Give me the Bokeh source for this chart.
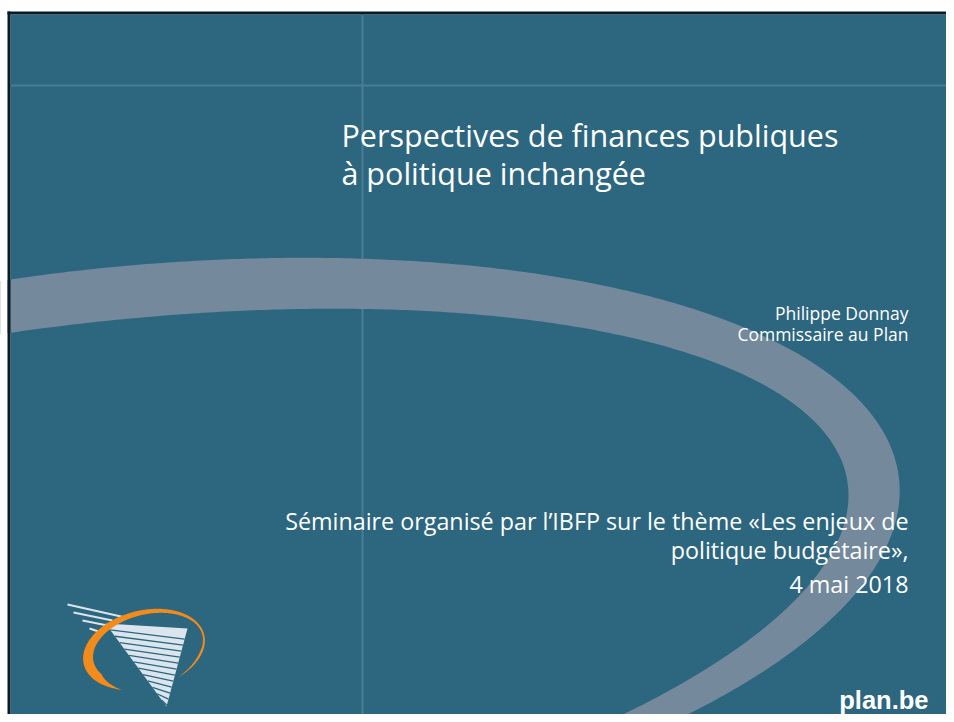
import numpy as np
from bokeh.plotting import figure
from bokeh.models import Range1d
from bokeh.core.properties import value
from bokeh.embed import file_html
from bokeh.resources import INLINE

# ---------------- content ----------------
title_lines = ["Perspectives de finances publiques", "à politique inchangée"]
author_lines = ["Philippe Donnay", "Commissaire au Plan"]
event_lines = ["Séminaire organisé par l’IBFP sur le thème «Les enjeux de",
               "politique budgétaire»,", "4 mai 2018"]
site_label = "plan.be"

# ---------------- colours ----------------
BG = "#2d667f"
BAND = "#74899b"
GUIDE = "#4a7c93"
ORANGE = "#f28a1c"
STRIPE = "#dbe5ed"
FRAME = "#0a1c26"

# ---------------- swoosh edge tracing (picture pixels) ----------------
outer_x = [10, 150, 273, 362, 600, 760, 850, 880, 892, 872, 812, 742, 672]
outer_y = [279, 264, 255, 258, 292, 327, 390, 420, 490, 570, 637, 683, 722]
inner_x = [10, 200, 362, 600, 733, 800, 838, 845, 836, 794, 714, 604]
inner_y = [332, 313, 308, 332, 367, 410, 450, 480, 540, 600, 665, 722]


def fit_ellipse(xs, ys, n=900):
    x = np.asarray(xs, float)
    y = np.asarray(ys, float)
    mx, my, s = x.mean(), y.mean(), 100.0
    u, v = (x - mx) / s, (y - my) / s
    D1 = np.column_stack([u * u, u * v, v * v])
    D2 = np.column_stack([u, v, np.ones_like(u)])
    S1, S2, S3 = D1.T @ D1, D1.T @ D2, D2.T @ D2
    T = -np.linalg.solve(S3, S2.T)
    M = S1 + S2 @ T
    C = np.array([[0, 0, 2], [0, -1, 0], [2, 0, 0]], float)
    M = np.linalg.solve(C, M)
    w, V = np.linalg.eig(M)
    V = np.real(V)
    cond = 4 * V[0] * V[2] - V[1] ** 2
    a1 = V[:, np.argmax(cond)]
    a, b, c = a1
    d, e, f = T @ a1
    uc, vc = np.linalg.solve(np.array([[2 * a, b], [b, 2 * c]]), [-d, -e])
    fc = a * uc * uc + b * uc * vc + c * vc * vc + d * uc + e * vc + f
    Q = np.array([[a, b / 2], [b / 2, c]])
    ev, EV = np.linalg.eigh(Q)
    r = np.sqrt(-fc / ev)
    t = np.linspace(0, 2 * np.pi, n)
    pts = EV @ np.vstack([r[0] * np.cos(t), r[1] * np.sin(t)])
    return list(mx + s * (uc + pts[0])), list(my + s * (vc + pts[1]))


ox, oy = fit_ellipse(outer_x, outer_y)
ix, iy = fit_ellipse(inner_x, inner_y)

# ---------------- figure (data units = picture pixels) ----------------
W, H = 946, 714
p = figure(width=W, height=H, x_range=Range1d(0, W), y_range=Range1d(H, 0),
           x_axis_type=None, y_axis_type=None, toolbar_location=None,
           output_backend="svg", min_border=0, outline_line_color=None,
           background_fill_color="white", border_fill_color="white")
p.grid.visible = False

# slide background
p.quad(left=[10], right=[960], top=[14], bottom=[730], fill_color=BG, line_color=None)

# guide lines
p.segment(x0=[362, 10], y0=[14, 85], x1=[362, 960], y1=[730, 85],
          line_color=GUIDE, line_width=2)

# swoosh band
p.multi_polygons(xs=[[[ox, ix]]], ys=[[[oy, iy]]], fill_color=BAND, line_color=None)

# white page margin and dark slide frame (left and top)
p.quad(left=[-10], right=[7], top=[-10], bottom=[730], fill_color="white", line_color=None)
p.quad(left=[7, 7], right=[10, 960], top=[11, 11], bottom=[730, 14],
       fill_color=FRAME, line_color=None)

# ---------------- logo ----------------
tri_x = [105, 187, 166]
tri_y = [623, 628, 706]
p.patch(tri_x, tri_y, fill_color=STRIPE, line_color=None)
n_stripes = 13
for k in range(1, n_stripes):
    s0 = k / n_stripes
    s1 = min(1.0, s0 + 0.06)
    lx = tri_x[0] + (tri_x[2] - tri_x[0]) * s0
    ly = tri_y[0] + (tri_y[2] - tri_y[0]) * s0
    rx = tri_x[1] + (tri_x[2] - tri_x[1]) * s1
    ry = tri_y[1] + (tri_y[2] - tri_y[1]) * s1
    p.segment(x0=[lx], y0=[ly], x1=[rx], y1=[ry], line_color=BG, line_width=1.3)
speed_x0 = [67, 73, 82, 89]
speed_y0 = [604, 612, 620, 628]
speed_x1 = [125, 112, 107, 98]
speed_y1 = [617, 620, 625, 631]
p.segment(x0=speed_x0, y0=speed_y0, x1=speed_x1, y1=speed_y1, line_color=STRIPE, line_width=2)

# orange ring (tapered elliptical arc)
cx, cy, ra, rb, phi = 143.5, 649.0, 62.0, 39.0, np.deg2rad(-14)
t = np.deg2rad(np.linspace(120, 425, 200))
def ell(cx_, cy_, a_, b_, tt):
    return (cx_ + a_ * np.cos(tt) * np.cos(phi) - b_ * np.sin(tt) * np.sin(phi),
            cy_ + a_ * np.cos(tt) * np.sin(phi) + b_ * np.sin(tt) * np.cos(phi))
oxr, oyr = ell(cx, cy, ra, rb, t)
ixr, iyr = ell(cx + 4, cy - 1, ra - 6, rb - 5, t)
frac = (t - t[0]) / (t[-1] - t[0])
taper = np.clip(np.minimum(frac, 1 - frac) / 0.12, 0, 1)
ixr = oxr + (ixr - oxr) * taper
iyr = oyr + (iyr - oyr) * taper
p.patch(list(oxr) + list(ixr[::-1]), list(oyr) + list(iyr[::-1]),
        fill_color=ORANGE, line_color=None)

# ---------------- texts ----------------
p.text(x=[341, 341], y=[134, 172], text=title_lines, text_font=value("Open Sans"),
       text_font_size="30.5px", text_color="white", text_align="left",
       text_baseline="alphabetic")
p.text(x=[908, 908], y=[312, 333], text=author_lines, text_font=value("Open Sans"),
       text_font_size="17.5px", text_color="white", text_align="right",
       text_baseline="alphabetic")
p.text(x=[908, 908, 908], y=[520, 549, 583], text=event_lines, text_font=value("Open Sans"),
       text_font_size="23.3px", text_color="white", text_align="right",
       text_baseline="alphabetic")
p.text(x=[928], y=[699], text=[site_label], text_font=value("Liberation Sans"),
       text_font_size="25.5px", text_font_style="bold", text_color="white",
       text_align="right", text_baseline="alphabetic")

open("out.html", "w").write(file_html(p, INLINE))
